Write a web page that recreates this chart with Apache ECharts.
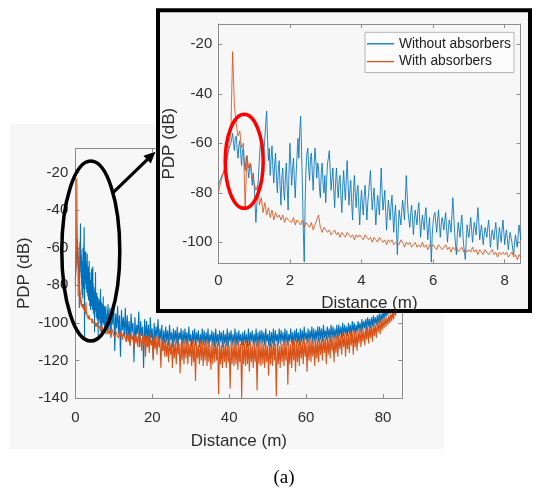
<!DOCTYPE html>
<html><head><meta charset="utf-8">
<script src="https://cdn.jsdelivr.net/npm/echarts@6/dist/echarts.min.js"></script>
<style>html,body{margin:0;padding:0;background:#fff}#c{width:552px;height:488px}</style>
</head><body><div id="c"></div>
<script>
// ---- tick labels ----
const mainXTicks = [0, 20, 40, 60, 80];
const mainYTicks = [-140, -120, -100, -80, -60, -40, -20];
const insetXTicks = [0, 2, 4, 6, 8];
const insetYTicks = [-100, -80, -60, -40, -20];
const seriesNames = ['Without absorbers', 'With absorbers'];

// ---- data: near range (0 .. 8.45 m) ----
const blueNearStep = 0.025;
const blueNear = [
-77,-76,-75,-74,-73,-73,-72,-71,-70,-68,-66,-64,-62,-61,-60,-58,-56,-60,-63,-58,-57,-62,-66,-61,-59,-64,-69,-63,-62,-67,-71,-66,-65,-70,-74,-69,-68,-73,-77,-72,
-76,-84,-92,-85,-79,-72,-66,-60,-57,-64,-70,-63,-58,-52,-47,-58,-67,-62,-73,-66,-61,-70,-76,-68,-64,-74,-80,-71,-67,-77,-85,-74,-70,-79,-83,-73,-68,-78,-87,-71,
-60,-69,-77,-70,-66,-75,-82,-72,-65,-58,-66,-55,-49,-63,-78,-96,-108,-84,-70,-64,-62,-70,-75,-66,-64,-72,-79,-69,-62,-67,-74,-68,-70,-78,-82,-72,-68,-76,-80,-73,
-84,-75,-68,-66,-63,-71,-79,-74,-70,-79,-86,-76,-70,-77,-82,-75,-73,-81,-88,-78,-71,-78,-83,-74,-67,-76,-85,-79,-75,-84,-91,-80,-73,-80,-86,-79,-77,-86,-93,-84,
-79,-85,-89,-81,-77,-84,-91,-84,-80,-75,-71,-80,-87,-82,-78,-86,-93,-86,-81,-85,-89,-79,-70,-80,-87,-83,-79,-88,-95,-88,-83,-87,-91,-85,-81,-89,-96,-89,-85,-94,
-105,-95,-87,-90,-93,-87,-83,-87,-91,-82,-73,-81,-88,-91,-94,-88,-85,-91,-97,-91,-87,-90,-93,-87,-84,-91,-98,-93,-89,-92,-95,-89,-86,-93,-99,-94,-90,-99,-108,-97,
-92,-89,-88,-92,-96,-91,-87,-92,-98,-93,-90,-92,-95,-91,-88,-94,-100,-95,-91,-93,-96,-89,-82,-89,-96,-101,-105,-97,-92,-95,-98,-93,-89,-95,-101,-104,-107,-99,-93,-96,
-98,-94,-90,-95,-100,-96,-92,-94,-97,-91,-86,-92,-99,-96,-93,-97,-101,-97,-94,-96,-98,-94,-91,-96,-102,-98,-95,-97,-99,-95,-92,-97,-103,-98,-94,-97,-100,-95,-91,-96,
-101,-97,-95,-99,-103,-99,-96,-98,-100,-103,-105,-100,-97,-100,-102,-97,-93,-96,-99
];
const orangeNearStep = 0.05;
const orangeNear = [
-80,-77,-74,-71,-69,-65,-60,-56,-23,-45,-52,-57,-55,-62,-60,-86,-65,-70,-68,-74,
-76,-79,-77,-85,-82,-88,-84,-89,-86,-90,-87,-91,-88,-90,-89,-91,-89,-92,-90,-91,
-91,-92,-90,-93,-91,-92,-93,-91,-94,-92,-93,-94,-92,-95,-93,-91,-89,-94,-96,-94,
-95,-96,-95,-97,-96,-95,-97,-96,-98,-96,-97,-98,-96,-97,-98,-97,-99,-97,-98,-97,
-98,-99,-97,-98,-99,-98,-100,-98,-99,-100,-98,-99,-100,-99,-101,-99,-100,-99,-101,-100,
-100,-101,-99,-100,-102,-100,-101,-100,-102,-101,-100,-102,-101,-102,-100,-102,-101,-103,-101,-102,
-101,-102,-103,-101,-102,-103,-102,-101,-103,-102,-104,-102,-103,-102,-104,-103,-102,-104,-103,-104,
-103,-104,-102,-104,-103,-105,-103,-104,-105,-103,-104,-105,-104,-103,-105,-104,-106,-104,-105,-104,
-105,-104,-106,-105,-104,-106,-105,-107,-105,-106
];

// ---- data: far range (8.5 .. 84.75 m) ----
const farStart = 8.5, farStep = 0.25;
const blueFar = [
-90,-104,-92,-108,-94,-101,-89,-115,-95,-103,-91,-106,-96,-118,-93,-104,-97,-107,-92,-110,
-96,-108,-99,-112,-95,-105,-100,-121,-97,-109,-101,-106,-94,-113,-99,-107,-102,-124,-98,-110,
-99,-109,-101,-113,-97,-108,-103,-119,-100,-110,-102,-108,-98,-112,-103,-109,-101,-115,-104,-111,
-102,-110,-104,-112,-101,-109,-105,-113,-103,-110,-104,-111,-102,-112,-105,-109,-103,-113,-104,-111,
-103,-111,-105,-112,-102,-110,-106,-113,-104,-111,-103,-112,-105,-110,-104,-113,-106,-111,-103,-112,
-104,-112,-105,-111,-103,-113,-106,-110,-104,-112,-105,-113,-103,-111,-106,-112,-104,-110,-105,-113,
-104,-111,-106,-112,-103,-113,-105,-110,-104,-112,-106,-111,-103,-113,-105,-112,-104,-110,-106,-112,
-105,-112,-104,-111,-106,-113,-103,-112,-105,-110,-104,-112,-106,-111,-103,-113,-105,-112,-104,-111,
-104,-111,-105,-112,-103,-110,-106,-112,-104,-113,-105,-111,-103,-112,-104,-110,-106,-112,-103,-111,
-104,-110,-105,-112,-103,-111,-104,-112,-106,-110,-103,-111,-105,-112,-104,-110,-103,-111,-105,-112,
-103,-110,-104,-111,-102,-109,-105,-111,-103,-110,-104,-109,-102,-111,-103,-110,-104,-109,-102,-110,
-102,-109,-103,-110,-101,-108,-104,-109,-102,-108,-103,-110,-101,-108,-102,-109,-103,-108,-101,-109,
-101,-107,-102,-108,-100,-107,-101,-106,-102,-107,-100,-106,-101,-107,-99,-105,-100,-106,-101,-105,
-99,-104,-100,-105,-98,-104,-99,-103,-98,-104,-97,-102,-98,-103,-97,-102,-96,-101,-97,-101,
-96,-100,-95,-100,-95,-99,-94,-98,-93,-97,-92,-96,-91,-95,-90,-94,-89,-92,-87,-90,
-85,-88,-83,-85,-80,-82
];
const orangeFar = [
-103,-106,-104,-107,-103,-105,-104,-108,-104,-106,-105,-108,-104,-107,-105,-109,-105,-107,-106,-110,
-105,-110,-106,-112,-105,-109,-107,-114,-106,-111,-107,-113,-105,-110,-108,-115,-106,-112,-107,-118,
-107,-113,-108,-116,-106,-112,-109,-120,-107,-114,-108,-117,-107,-113,-109,-124,-108,-115,-109,-118,
-109,-118,-110,-121,-108,-117,-111,-124,-109,-119,-110,-122,-108,-117,-111,-127,-110,-120,-109,-122,
-110,-119,-109,-122,-111,-118,-110,-123,-109,-121,-111,-131,-110,-119,-112,-122,-109,-120,-110,-123,
-111,-120,-109,-123,-110,-121,-112,-125,-110,-122,-111,-121,-109,-120,-111,-138,-110,-122,-112,-124,
-110,-121,-111,-124,-109,-121,-112,-135,-110,-122,-111,-123,-109,-122,-112,-125,-110,-121,-111,-140,
-110,-122,-111,-123,-109,-122,-111,-126,-110,-121,-112,-124,-110,-121,-111,-136,-109,-122,-111,-123,
-110,-122,-111,-124,-109,-121,-112,-128,-110,-122,-111,-123,-109,-120,-111,-139,-110,-122,-112,-124,
-110,-121,-111,-123,-109,-120,-111,-133,-110,-122,-111,-124,-109,-120,-110,-126,-109,-121,-111,-123,
-109,-119,-110,-122,-108,-118,-110,-126,-109,-120,-108,-121,-109,-118,-110,-123,-108,-119,-109,-121,
-108,-117,-109,-120,-107,-116,-108,-122,-107,-117,-108,-119,-106,-115,-108,-121,-107,-116,-107,-118,
-106,-114,-107,-117,-105,-113,-106,-118,-105,-114,-106,-116,-104,-112,-105,-117,-104,-113,-105,-115,
-104,-111,-103,-113,-103,-110,-104,-112,-102,-109,-102,-111,-101,-108,-102,-110,-100,-107,-101,-108,
-99,-105,-99,-106,-98,-104,-98,-103,-97,-102,-97,-101,-96,-100,-95,-99,-94,-98,-93,-96,
-92,-94,-89,-90,-85,-86
];

// ---- build point lists ----
const toPairs = (arr, x0, step) => arr.map((v, i) => [+(x0 + i * step).toFixed(4), v]);
const blueNearPts = toPairs(blueNear, 0, blueNearStep);
const orangeNearPts = toPairs(orangeNear, 0, orangeNearStep);
const blueAll = blueNearPts.concat(toPairs(blueFar, farStart, farStep));
const orangeAll = orangeNearPts.concat(toPairs(orangeFar, farStart, farStep));

const FONT = '"Liberation Sans", Arial, Helvetica, sans-serif';
const AX = '#8c8c8c', TXT = '#2e2e2e';
const BLUE = '#0072BD', ORANGE = '#D95319';

function axis(o) {
  return {
    type: 'value', gridIndex: o.g, min: o.min, max: o.max, position: o.pos, z: o.z,
    axisLine: { show: true, onZero: false, lineStyle: { color: AX, width: 1 } },
    axisTick: { show: true, inside: true, length: 4, customValues: o.ticks, lineStyle: { color: AX, width: 1 } },
    axisLabel: { show: !!o.label, customValues: o.ticks, fontSize: 15, color: TXT, margin: o.margin || 8, fontFamily: FONT },
    splitLine: { show: false },
    name: o.name || '', nameLocation: 'middle', nameGap: o.nameGap || 0, nameRotate: o.rot || 0,
    nameMoveOverlap: false,
    nameTextStyle: { fontSize: 17, color: TXT, fontFamily: FONT }
  };
}

const chart = echarts.init(document.getElementById('c'), null, { renderer: 'canvas' });
chart.setOption({
  animation: false,
  backgroundColor: '#ffffff',
  textStyle: { fontFamily: FONT },
  grid: [
    { left: 75.3, top: 148.3, width: 327, height: 249.7, show: false, outerBoundsMode: 'none', containLabel: false },
    { left: 218.3, top: 24, width: 302.2, height: 239.3, show: false, outerBoundsMode: 'none', containLabel: false }
  ],
  xAxis: [
    axis({ g: 0, min: 0, max: 85, pos: 'bottom', z: 1, ticks: mainXTicks, label: true, margin: 12, name: 'Distance (m)', nameGap: 35 }),
    axis({ g: 0, min: 0, max: 85, pos: 'top', z: 1, ticks: mainXTicks }),
    axis({ g: 1, min: 0, max: 8.44, pos: 'bottom', z: 6, ticks: insetXTicks, label: true, margin: 10, name: 'Distance (m)', nameGap: 32 }),
    axis({ g: 1, min: 0, max: 8.44, pos: 'top', z: 6, ticks: insetXTicks })
  ],
  yAxis: [
    axis({ g: 0, min: -140, max: -7, pos: 'left', z: 1, ticks: mainYTicks, label: true, margin: 7, name: 'PDP (dB)', nameGap: 42, rot: 90 }),
    axis({ g: 0, min: -140, max: -7, pos: 'right', z: 1, ticks: mainYTicks }),
    axis({ g: 1, min: -108.5, max: -11.8, pos: 'left', z: 6, ticks: insetYTicks, label: true, margin: 6, name: 'PDP (dB)', nameGap: 40, rot: 90 }),
    axis({ g: 1, min: -108.5, max: -11.8, pos: 'right', z: 6, ticks: insetYTicks })
  ],
  legend: {
    show: true, z: 8, left: 365, top: 32.3, orient: 'vertical',
    data: seriesNames, icon: 'rect', itemWidth: 27, itemHeight: 1.3, itemGap: 3.8,
    padding: [4.5, 3, 4, 2], borderColor: '#b4b4b4', borderWidth: 1, backgroundColor: '#fcfcfc',
    borderRadius: 0, selectedMode: false,
    itemStyle: { borderWidth: 0 },
    textStyle: { fontSize: 13.8, color: '#222', fontFamily: FONT }
  },
  series: [
    { name: 'main-' + seriesNames[0], type: 'line', xAxisIndex: 0, yAxisIndex: 0, data: blueAll, symbol: 'none', z: 2,
      lineStyle: { color: BLUE, width: 1.1 }, itemStyle: { color: BLUE }, silent: true, clip: true },
    { name: 'main-' + seriesNames[1], type: 'line', xAxisIndex: 0, yAxisIndex: 0, data: orangeAll, symbol: 'none', z: 2,
      lineStyle: { color: ORANGE, width: 1.1 }, itemStyle: { color: ORANGE }, silent: true, clip: true },
    { name: seriesNames[0], type: 'line', xAxisIndex: 2, yAxisIndex: 2, data: blueNearPts, symbol: 'none', z: 7,
      lineStyle: { color: BLUE, width: 0.85 }, itemStyle: { color: BLUE }, silent: true, clip: true },
    { name: seriesNames[1], type: 'line', xAxisIndex: 2, yAxisIndex: 2, data: orangeNearPts, symbol: 'none', z: 7,
      lineStyle: { color: ORANGE, width: 0.85 }, itemStyle: { color: ORANGE }, silent: true, clip: true }
  ],
  graphic: [
    { type: 'rect', z: -10, silent: true, shape: { x: 10, y: 124, width: 434, height: 325 }, style: { fill: '#f7f7f7' } },
    { type: 'ellipse', z: 3, silent: true, shape: { cx: 90.8, cy: 251, rx: 29, ry: 90 }, style: { fill: 'none', stroke: '#000', lineWidth: 3.5 } },
    { type: 'line', z: 3, silent: true, shape: { x1: 112.3, y1: 193.3, x2: 147.5, y2: 159.3 }, style: { stroke: '#000', lineWidth: 3.2 } },
    { type: 'polygon', z: 3, silent: true, shape: { points: [[155.5, 151.8], [150.8, 163.4], [143.4, 155.8]] }, style: { fill: '#000' } },
    { type: 'rect', z: 5, silent: true, shape: { x: 158, y: 10.3, width: 372, height: 300.7 }, style: { fill: '#f7f7f7', stroke: '#000', lineWidth: 4 } },
    { type: 'ellipse', z: 20, silent: true, shape: { cx: 244.2, cy: 161.3, rx: 19, ry: 47 }, style: { fill: 'none', stroke: '#ff0000', lineWidth: 3.5 } },
    { type: 'text', z: 3, silent: true, style: { x: 284, y: 478, text: '(a)', textAlign: 'center', textVerticalAlign: 'middle', font: '19px "Liberation Serif", "Times New Roman", serif', fill: '#000' } }
  ]
});
</script>
</body></html>
